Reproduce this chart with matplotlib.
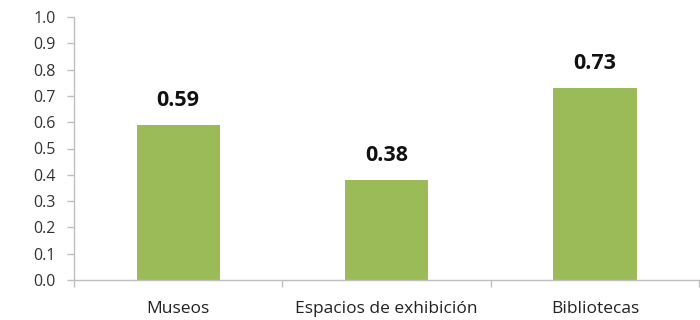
import matplotlib
matplotlib.use("Agg")
import matplotlib.pyplot as plt
from matplotlib.ticker import FixedLocator

categories = ["Museos", "Espacios de exhibición", "Bibliotecas"]
values = [0.59, 0.38, 0.73]
value_labels = ["0.59", "0.38", "0.73"]
yticks = [0.0, 0.1, 0.2, 0.3, 0.4, 0.5, 0.6, 0.7, 0.8, 0.9, 1.0]

plt.rcParams['font.family'] = ['Open Sans', 'DejaVu Sans']

fig = plt.figure(figsize=(7, 3.2), dpi=100)
ax = fig.add_axes([74/700, 1-280/320, 626/700 - 0.001, 263/320])

x = list(range(len(categories)))
bars = ax.bar(x, values, width=0.4, color="#9bbb59", zorder=2)
for xi, v, lab in zip(x, values, value_labels):
    ax.annotate(lab, (xi, v), xytext=(0, 10), textcoords="offset points",
                ha="center", va="bottom", fontsize=15.5, fontweight="bold", color="#111111")

ax.set_xlim(-0.5, 2.5)
ax.set_ylim(0, 1.0)
ax.set_yticks(yticks)
ax.set_yticklabels([f"{t:.1f}" for t in yticks])
ax.set_xticks(x)
ax.set_xticklabels(categories)
ax.xaxis.set_minor_locator(FixedLocator([-0.5, 0.5, 1.5, 2.5]))
ax.tick_params(axis="x", which="major", length=0, pad=15, labelsize=12.5, labelcolor="#222222")
ax.tick_params(axis="x", which="minor", length=5, color="#bfbfbf", width=1)
ax.tick_params(axis="y", which="major", length=5, color="#bfbfbf", width=1, pad=8,
               labelsize=11.5, labelcolor="#333333")
for s in ["top", "right"]:
    ax.spines[s].set_visible(False)
for s in ["left", "bottom"]:
    ax.spines[s].set_color("#bfbfbf")
    ax.spines[s].set_linewidth(1)

fig.savefig("out.png", dpi=100, facecolor="white")
